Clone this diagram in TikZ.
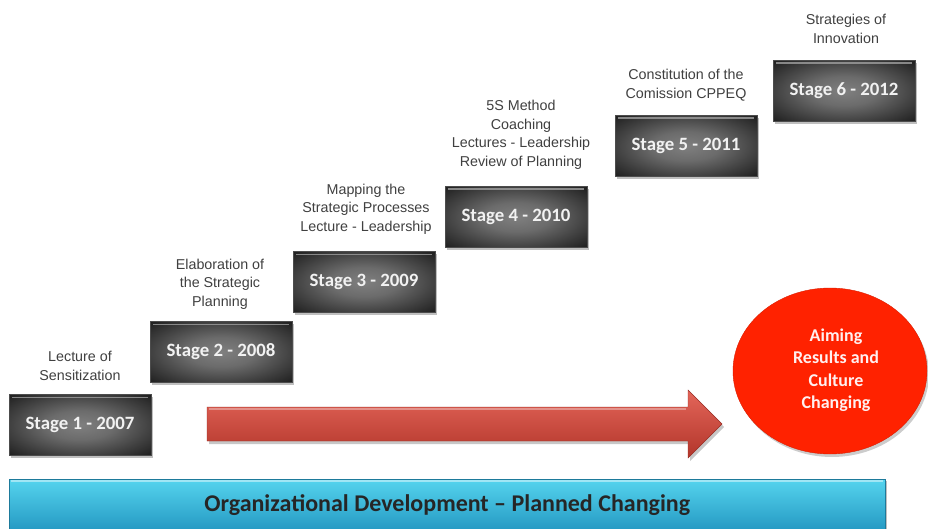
\documentclass[tikz,border=0pt]{standalone}
\usepackage{fontspec}
\setmainfont{Liberation Sans}
\newfontfamily\carlito[Ligatures=TeX]{Carlito}
\usetikzlibrary{shapes.geometric}
\definecolor{labelgray}{HTML}{404040}
\definecolor{arrowtop}{HTML}{E4665A}
\definecolor{arrowmid}{HTML}{CC4032}
\definecolor{arrowbot}{HTML}{B2352A}
\definecolor{goalred}{HTML}{FF2200}
\definecolor{bartop}{HTML}{55D4EE}
\definecolor{barbot}{HTML}{2498C2}
% soft glow for the stage boxes: grey centre fading to near black
\pgfdeclareradialshading{stageglow}{\pgfpoint{0bp}{0bp}}{%
  color(0bp)=(black!50); color(12bp)=(black!58); color(25bp)=(black!75);
  color(36bp)=(black!89); color(50bp)=(black!94); color(71bp)=(black!95)}
\begin{document}
\begin{tikzpicture}[x=1pt,y=-1pt,
  stagebox/.style={minimum width=142pt,minimum height=61pt,inner sep=0pt,
    shading=stageglow,draw=black!70,line width=0.4pt,
    text=white!90!gray,font=\carlito\bfseries\fontsize{18.8}{21}\selectfont},
  stagenote/.style={align=center,inner sep=0pt,text=labelgray,
    font=\fontsize{14.3}{18.5}\selectfont},
  boxshadow/.style={fill=black,opacity=0.25}]
\useasboundingbox (0,0) rectangle (928,529);
\fill[white] (0,0) rectangle (928,529);

% stage boxes, climbing to the right
\foreach \cx/\cy/\nm/\txt in {80/425/s1/Stage 1 - 2007, 221/352/s2/Stage 2 - 2008,
    364/282/s3/Stage 3 - 2009, 516/217/s4/Stage 4 - 2010,
    686/146/s5/Stage 5 - 2011, 844/91/s6/Stage 6 - 2012}{
  \fill[boxshadow] (\cx-69,\cy-28) rectangle (\cx+73,\cy+33);
  \node[stagebox] (\nm) at (\cx,\cy) {\txt};
  \draw[gray!75,line width=1.6pt,opacity=0.8]
    ([xshift=3pt,yshift=-3pt]\nm.north west) -- ([xshift=-3pt,yshift=-3pt]\nm.north east);
}

% notes above each stage
\node[stagenote] (n1) at (80,366) {Lecture of\\Sensitization};
\node[stagenote] (n2) at (220,284) {Elaboration of\\the Strategic\\Planning};
\node[stagenote] (n3) at (366,209) {Mapping the\\Strategic Processes\\Lecture - Leadership};
\node[stagenote] (n4) at (521,135) {5S Method\\Coaching\\Lectures - Leadership\\Review of Planning};
\node[stagenote] (n5) at (686,85) {Constitution of the\\Comission CPPEQ};
\node[stagenote] (n6) at (846,29) {Strategies of\\Innovation};

% big red progress arrow
\coordinate (atail) at (207,424);
\coordinate (atip) at (722,424);
\fill[black,opacity=0.22] (209,410) -- (690,410) -- (690,393) -- (724,427) -- (690,461) -- (690,444) -- (209,444) -- cycle;
\shade[top color=arrowtop,middle color=arrowmid,bottom color=arrowbot,draw=arrowbot!85!black,line width=0.4pt]
  (atail) ++(0,-17) -- (688,407) -- (688,390) -- (atip) -- (688,458) -- (688,441) -- (207,441) -- cycle;
\draw[white,opacity=0.35,line width=1.2pt] (209,409) -- (686,409);

% goal ellipse
\fill[black,opacity=0.2] (832,374) ellipse [x radius=97,y radius=83];
\node[ellipse,fill=goalred,draw=goalred!85!black,line width=0.4pt,
  minimum width=194pt,minimum height=166pt,inner sep=0pt] (goal) at (830,371) {};
\node[align=center,text=white!94!red,inner sep=0pt,
  font=\carlito\bfseries\fontsize{18}{22.5}\selectfont] (goaltxt) at (836,370)
  {Aiming\\Results and\\Culture\\Changing};

% base bar
\fill[black,opacity=0.25] (11,481) rectangle (887,532);
\node[minimum width=876pt,minimum height=52pt,inner sep=0pt,anchor=north west,
  shading=axis,top color=bartop,bottom color=barbot,draw=barbot!80!black,line width=0.4pt,
  font=\carlito\bfseries\fontsize{24}{26}\selectfont,text=black!85] (bar) at (9,479)
  {\raisebox{-1pt}{Organizational Development – Planned Changing}};
\draw[white,opacity=0.45,line width=1.2pt] (11,481) -- (883,481);
\end{tikzpicture}
\end{document}
